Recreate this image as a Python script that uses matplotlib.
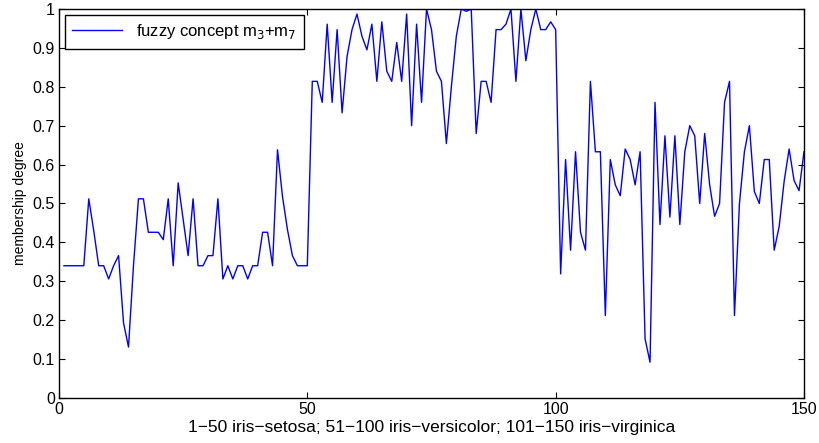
import numpy as np
import matplotlib.pyplot as plt

plt.rcParams['font.family'] = ['Liberation Sans', 'DejaVu Sans']

# membership degree of each of the 150 iris samples
samples = np.arange(1, 151)
setosa = [0.34, 0.34, 0.34, 0.34, 0.34, 0.512, 0.43, 0.34, 0.34, 0.306,
          0.34, 0.366, 0.193, 0.131, 0.34, 0.512, 0.512, 0.426, 0.426, 0.426,
          0.407, 0.512, 0.34, 0.553, 0.46, 0.366, 0.512, 0.34, 0.34, 0.366,
          0.366, 0.512, 0.306, 0.34, 0.306, 0.34, 0.34, 0.306, 0.34, 0.34,
          0.426, 0.426, 0.34, 0.638, 0.518, 0.433, 0.366, 0.34, 0.34, 0.34]
versicolor = [0.814, 0.814, 0.76, 0.961, 0.76, 0.947, 0.733, 0.878, 0.947, 0.987,
              0.93, 0.895, 0.961, 0.814, 0.967, 0.84, 0.814, 0.914, 0.814, 0.987,
              0.70, 0.961, 0.76, 1.0, 0.947, 0.84, 0.814, 0.654, 0.80, 0.93,
              1.0, 0.994, 1.0, 0.68, 0.814, 0.814, 0.76, 0.947, 0.947, 0.961,
              1.0, 0.814, 1.0, 0.867, 0.947, 1.0, 0.947, 0.947, 0.967, 0.947]
virginica = [0.319, 0.613, 0.38, 0.633, 0.426, 0.38, 0.814, 0.633, 0.633, 0.212,
             0.613, 0.548, 0.52, 0.64, 0.613, 0.548, 0.633, 0.152, 0.092, 0.76,
             0.446, 0.674, 0.465, 0.674, 0.446, 0.633, 0.70, 0.674, 0.50, 0.68,
             0.548, 0.467, 0.50, 0.76, 0.814, 0.212, 0.50, 0.633, 0.70, 0.531,
             0.50, 0.613, 0.613, 0.38, 0.441, 0.557, 0.64, 0.559, 0.533, 0.633]
membership = setosa + versicolor + virginica

fig = plt.figure(figsize=(8.19, 4.43), dpi=100)
ax = fig.add_axes([0.072, 0.1016, 0.9097, 0.8781])
ax.plot(samples, membership, color='#0000ff', lw=1.0,
        label='fuzzy concept m$_3$+m$_7$')

ax.set_xlim(0, 150)
ax.set_ylim(0, 1)
ax.set_xticks([0, 50, 100, 150])
ax.set_yticks(np.arange(0, 1.01, 0.1))
ax.set_yticklabels(['0', '0.1', '0.2', '0.3', '0.4', '0.5', '0.6', '0.7', '0.8', '0.9', '1'])
ax.tick_params(direction='in', top=True, right=True, length=4, width=0.8,
               labelsize=11.5, pad=3)
for s in ax.spines.values():
    s.set_linewidth(1.0)

ax.set_xlabel('1\u221250 iris\u2212setosa; 51\u2212100 iris\u2212versicolor; 101\u2212150 iris\u2212virginica',
              fontsize=12.5, labelpad=2)
ax.set_ylabel('membership degree', fontsize=10, labelpad=4)

leg = ax.legend(loc='upper left', fontsize=12, fancybox=False, framealpha=1,
                edgecolor='black', borderpad=0.45, handlelength=3.0,
                bbox_to_anchor=(0.0, 1.0), borderaxespad=0.35)
leg.get_frame().set_linewidth(1.0)

fig.savefig('out.png', dpi=100)
